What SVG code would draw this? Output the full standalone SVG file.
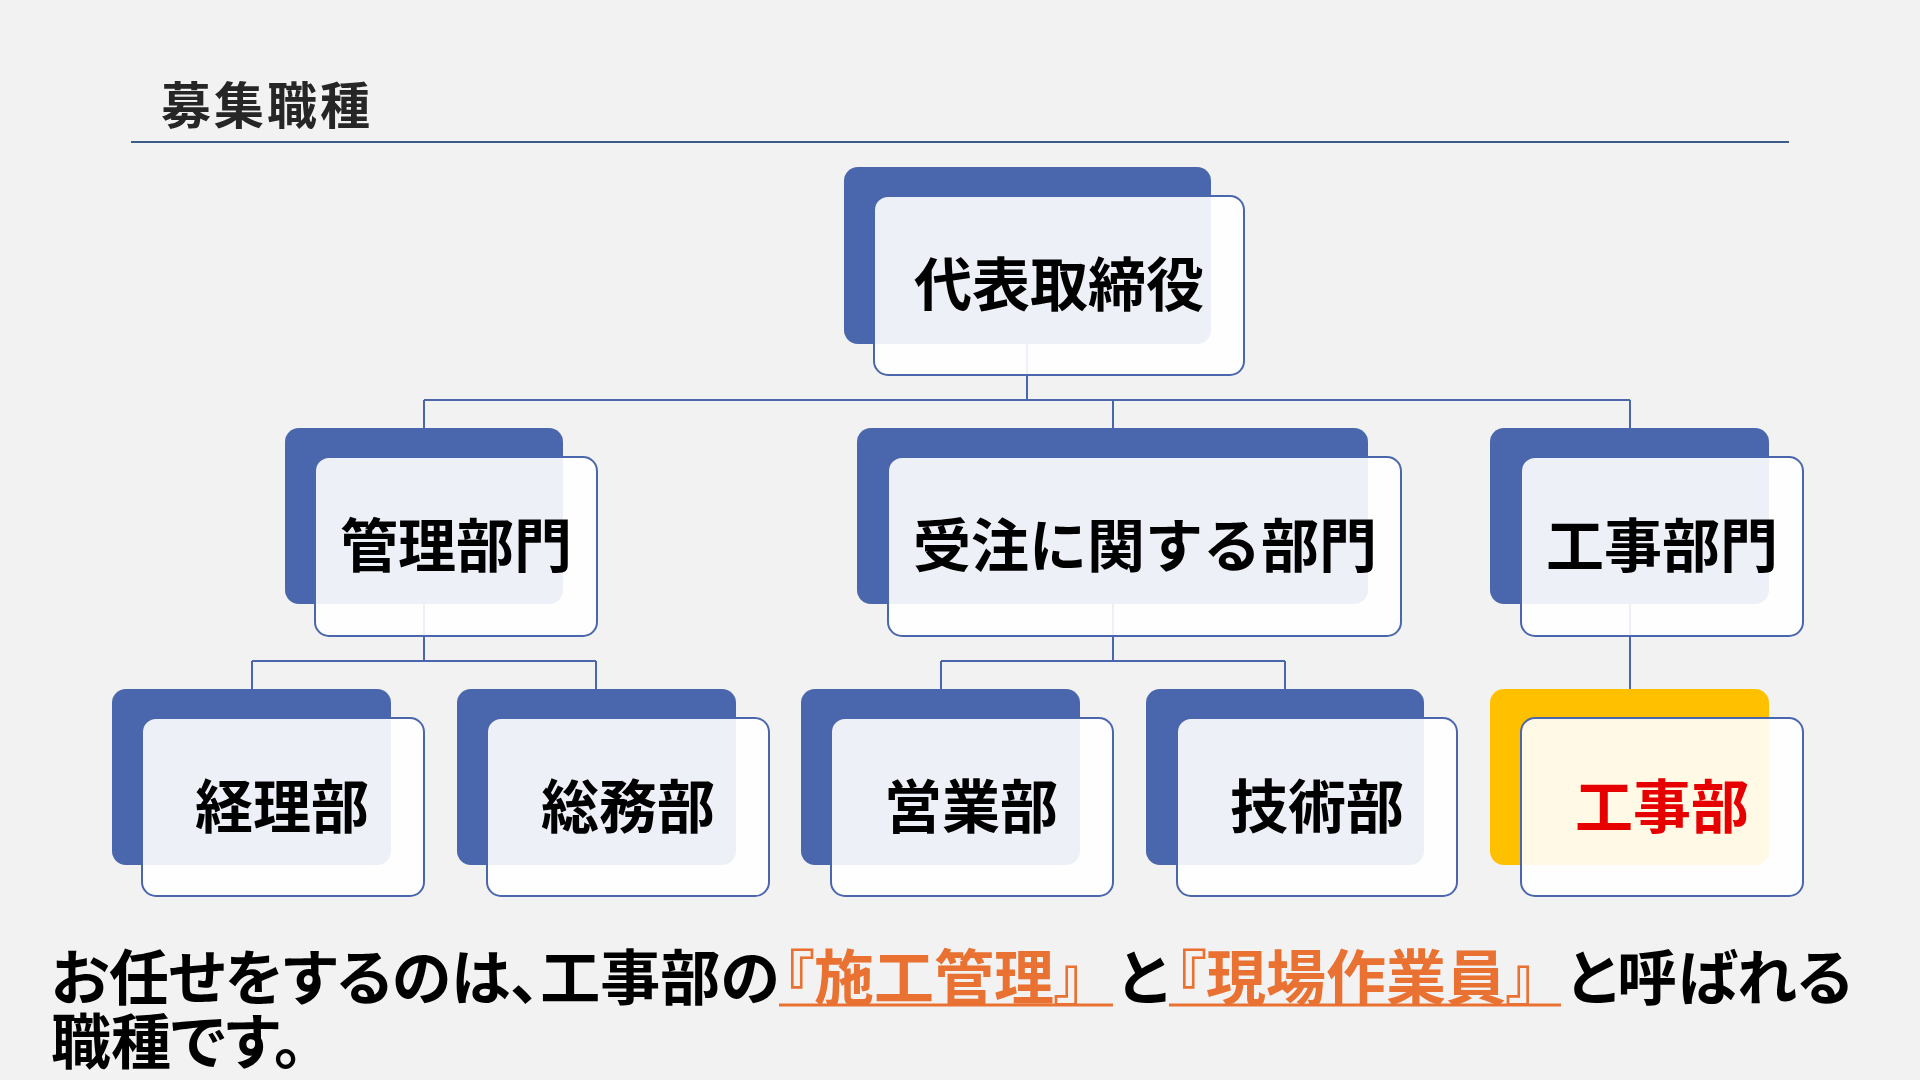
<svg xmlns="http://www.w3.org/2000/svg" width="1920" height="1080" viewBox="0 0 1920 1080">
<style>
.bg{fill:#F2F2F2}
.back{fill:#4A66AC}
.backY{fill:#FFC000}
.front{fill:#FFFFFF;fill-opacity:0.9;stroke:#4A66AC;stroke-width:2}
.lbl{font-family:"Noto Sans CJK JP","Noto Sans CJK SC",sans-serif;font-weight:700;font-size:58px;fill:#000;text-anchor:middle;dominant-baseline:central}
.red{fill:#E60000}
.conn{fill:none;stroke:#4A66AC;stroke-width:2}
.title{font-family:"Noto Sans CJK JP",sans-serif;font-weight:700;font-size:50px;fill:#262626;letter-spacing:3px;dominant-baseline:central}
.body{font-family:"Noto Sans CJK JP",sans-serif;font-weight:700;font-size:60px;fill:#000;font-feature-settings:"palt"}
.org{fill:#E97132}
.ul{stroke:#E97132;stroke-width:3}
</style>
<rect class="bg" x="0" y="0" width="1920" height="1080"/>
<g id="title">
<text class="title" x="161" y="102">募集職種</text>
<line x1="131" y1="142" x2="1789" y2="142" stroke="#3E5C8A" stroke-width="2"/>
</g>
<g id="connectors">
<path class="conn" d="M1027 344V400M424 400H1630M424 400V428M1113 400V428M1630 400V428"/>
<path class="conn" d="M424 604V661M252 661H596M252 661V689M596 661V689"/>
<path class="conn" d="M1113 604V661M941 661H1285M941 661V689M1285 661V689"/>
<path class="conn" d="M1630 604V689"/>
</g>
<g id="n-ceo">
<rect class="back" x="844" y="167" width="367" height="177" rx="14"/>
<rect class="front" x="874" y="196" width="370" height="179" rx="14"/>
<text class="lbl" x="1059" y="281">代表取締役</text>
</g>
<g id="n-kanri">
<rect class="back" x="285" y="428" width="278" height="176" rx="14"/>
<rect class="front" x="315" y="457" width="282" height="179" rx="14"/>
<text class="lbl" x="456" y="542">管理部門</text>
</g>
<g id="n-juchu">
<rect class="back" x="857" y="428" width="511" height="176" rx="14"/>
<rect class="front" x="888" y="457" width="513" height="179" rx="14"/>
<text class="lbl" x="1145" y="542">受注に関する部門</text>
</g>
<g id="n-koji-bumon">
<rect class="back" x="1490" y="428" width="279" height="176" rx="14"/>
<rect class="front" x="1521" y="457" width="282" height="179" rx="14"/>
<text class="lbl" x="1662" y="542">工事部門</text>
</g>
<g id="n-keiri">
<rect class="back" x="112" y="689" width="279" height="176" rx="14"/>
<rect class="front" x="142" y="718" width="282" height="178" rx="14"/>
<text class="lbl" x="282" y="803">経理部</text>
</g>
<g id="n-somu">
<rect class="back" x="457" y="689" width="279" height="176" rx="14"/>
<rect class="front" x="487" y="718" width="282" height="178" rx="14"/>
<text class="lbl" x="628" y="803">総務部</text>
</g>
<g id="n-eigyo">
<rect class="back" x="801" y="689" width="279" height="176" rx="14"/>
<rect class="front" x="831" y="718" width="282" height="178" rx="14"/>
<text class="lbl" x="971" y="803">営業部</text>
</g>
<g id="n-gijutsu">
<rect class="back" x="1146" y="689" width="278" height="176" rx="14"/>
<rect class="front" x="1177" y="718" width="280" height="178" rx="14"/>
<text class="lbl" x="1317" y="803">技術部</text>
</g>
<g id="n-koji">
<rect class="backY" x="1490" y="689" width="279" height="176" rx="14"/>
<rect class="front" x="1521" y="718" width="282" height="178" rx="14"/>
<text class="lbl red" x="1662" y="803">工事部</text>
</g>
<g id="caption">
<text class="body" y="1000"><tspan x="51">お任せをするのは、工事部の</tspan><tspan class="org" x="784">『施工管理』</tspan><tspan x="1118">と</tspan><tspan class="org" x="1176">『現場作業員』</tspan><tspan x="1567">と呼ばれる</tspan></text>
<text class="body" x="51" y="1064">職種です。</text>
<line class="ul" x1="779" y1="1005" x2="1113" y2="1005"/>
<line class="ul" x1="1169" y1="1005" x2="1561" y2="1005"/>
</g>
</svg>
